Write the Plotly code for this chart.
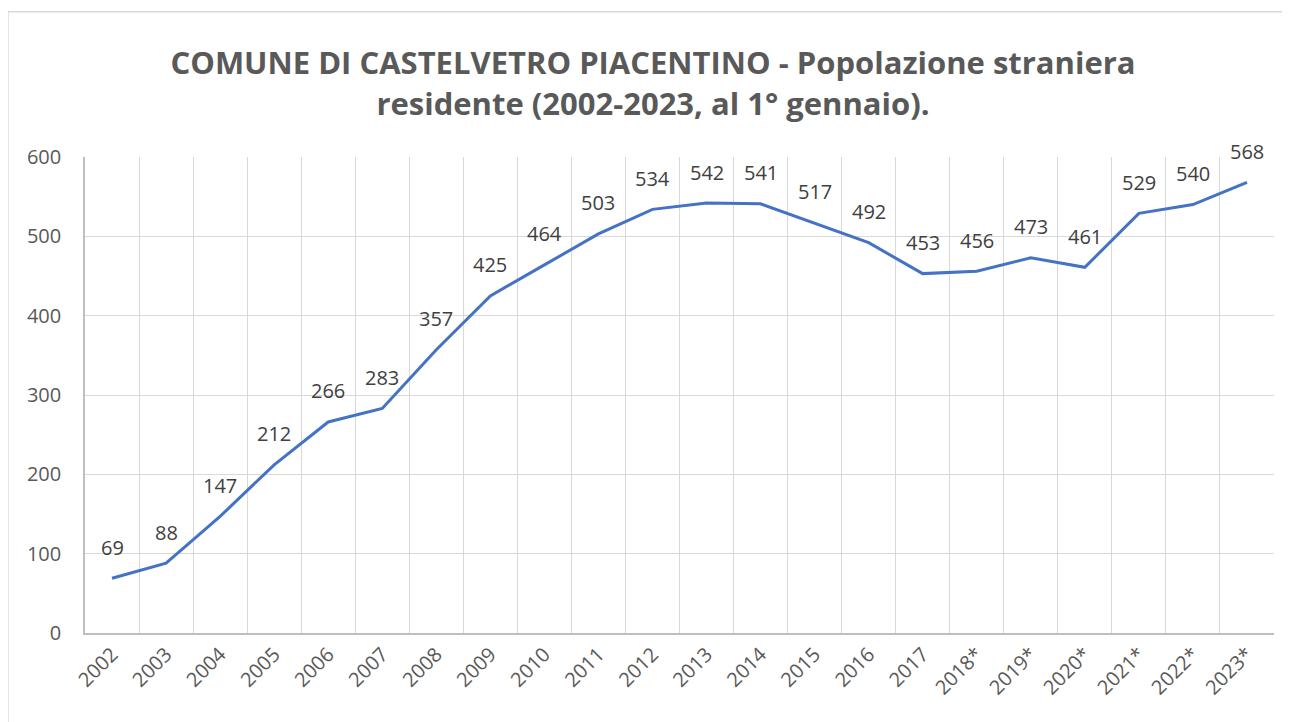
import plotly.graph_objects as go

years = ["2002", "2003", "2004", "2005", "2006", "2007", "2008", "2009", "2010", "2011",
         "2012", "2013", "2014", "2015", "2016", "2017", "2018*", "2019*", "2020*",
         "2021*", "2022*", "2023*"]
population = [69, 88, 147, 212, 266, 283, 357, 425, 464, 503, 534, 542, 541, 517, 492,
              453, 456, 473, 461, 529, 540, 568]

fig = go.Figure()
fig.add_trace(go.Scatter(
    x=years, y=population, mode="lines",
    line=dict(color="#4472C4", width=3),
    hoverinfo="x+y", showlegend=False,
))

for i, v in enumerate(population):
    fig.add_annotation(x=i, y=v, xref="x", yref="y", text=str(v), showarrow=False, yshift=31,
                       font=dict(family="Open Sans", size=20, color="#404040"))

fig.add_shape(type="rect", xref="paper", yref="paper",
              x0=-0.0648, x1=1.05, y0=-0.5, y1=1.305,
              line=dict(color="#D9D9D9", width=1.5), fillcolor="rgba(0,0,0,0)", layer="below")

fig.update_layout(
    width=1290, height=722,
    margin=dict(l=77, r=24, t=149, b=97),
    paper_bgcolor="white", plot_bgcolor="white",
    title=dict(
        text="COMUNE DI CASTELVETRO PIACENTINO - Popolazione straniera<br>residente (2002-2023, al 1° gennaio).",
        x=0.5, xanchor="center", y=0.908, yanchor="middle",
        font=dict(family="Open Sans", size=31, color="#595959", weight="bold"),
    ),
    xaxis=dict(
        type="category", tickson="boundaries", tickangle=-45, automargin=False,
        showgrid=True, gridcolor="#D9D9D9", gridwidth=1,
        showline=True, linecolor="#BFBFBF", linewidth=1.5,
        ticks="", tickfont=dict(family="Open Sans", size=20, color="#595959"),
        range=[-0.5, 21.5],
    ),
    yaxis=dict(
        range=[0, 600], dtick=100, automargin=False,
        showgrid=True, gridcolor="#D9D9D9", gridwidth=1,
        showline=True, linecolor="#BFBFBF", linewidth=1.5,
        zeroline=False, ticks="", ticklabelstandoff=18,
        tickfont=dict(family="Open Sans", size=20, color="#595959"),
    ),
)

fig.write_html("out.html")
